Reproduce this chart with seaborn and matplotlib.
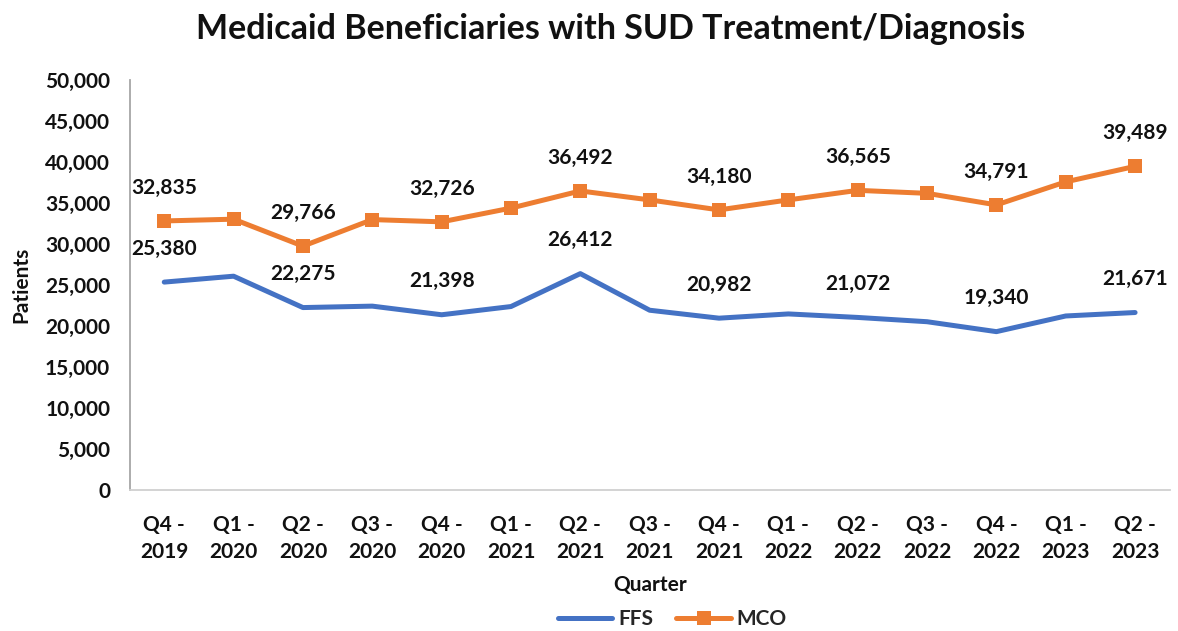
"""
Medicaid beneficiaries with SUD treatment/diagnosis, FFS vs MCO by quarter
"""
import matplotlib.pyplot as plt
import numpy as np
import pandas as pd
import seaborn as sns

quarters = ["Q4 -\n2019", "Q1 -\n2020", "Q2 -\n2020", "Q3 -\n2020", "Q4 -\n2020",
            "Q1 -\n2021", "Q2 -\n2021", "Q3 -\n2021", "Q4 -\n2021", "Q1 -\n2022",
            "Q2 -\n2022", "Q3 -\n2022", "Q4 -\n2022", "Q1 -\n2023", "Q2 -\n2023"]
ffs = [25380, 26100, 22275, 22450, 21398, 22400, 26412, 21950, 20982, 21500,
       21072, 20550, 19340, 21250, 21671]
mco = [32835, 33050, 29766, 33000, 32726, 34400, 36492, 35400, 34180, 35400,
       36565, 36200, 34791, 37600, 39489]
# only every second point gets a data label in the original
labelled = [0, 2, 4, 6, 8, 10, 12, 14]

sns.set_theme(style="white")
plt.rcParams['font.family'] = ['Lato', 'DejaVu Sans']

df = pd.DataFrame({"pos": np.arange(len(quarters)), "FFS": ffs, "MCO": mco})

fig, ax = plt.subplots(figsize=(11.78, 6.31), dpi=100)
fig.subplots_adjust(left=0.11, right=0.993, top=0.873, bottom=0.223)

sns.lineplot(data=df, x="pos", y="FFS", color="#4472C4", linewidth=3.6,
             label="FFS", ax=ax)
sns.lineplot(data=df, x="pos", y="MCO", color="#ED7D31", linewidth=3.6,
             marker="s", markersize=10, markeredgewidth=0, label="MCO", ax=ax)

for col in ("FFS", "MCO"):
    for i in labelled:
        ax.annotate(f"{df[col][i]:,}", (i, df[col][i]), xytext=(0, 24),
                    textcoords="offset points", ha="center", va="center",
                    fontsize=15, fontweight="bold", color="#111111")

ax.set_xlim(-0.5, len(quarters) - 0.5)
ax.set_ylim(0, 50000)
ax.set_yticks(range(0, 50001, 5000))
ax.set_yticklabels([f"{v:,}" for v in range(0, 50001, 5000)])
ax.set_xticks(range(len(quarters)))
ax.set_xticklabels(quarters, linespacing=1.45)
ax.tick_params(axis="both", length=0, labelsize=15, labelcolor="#111111")
for lab in ax.get_xticklabels() + ax.get_yticklabels():
    lab.set_fontweight("bold")
ax.tick_params(axis="x", pad=18)
ax.tick_params(axis="y", pad=14)

for side in ("top", "right"):
    ax.spines[side].set_visible(False)
ax.spines["left"].set_color("#a6a6a6")
ax.spines["bottom"].set_color("#d0d0d0")
ax.spines["left"].set_linewidth(1.3)
ax.spines["bottom"].set_linewidth(1.3)

ax.set_xlabel("Quarter", fontsize=15, fontweight="bold", labelpad=9,
              color="#111111")
ax.set_ylabel("Patients", fontsize=15, fontweight="bold", labelpad=10,
              color="#111111")
fig.suptitle("Medicaid Beneficiaries with SUD Treatment/Diagnosis",
             fontsize=24.5, fontweight="bold", x=0.518, y=0.98, color="#111111")

ax.legend(loc="lower center", bbox_to_anchor=(0.522, -0.385), ncol=2,
          frameon=False, handlelength=2.6, columnspacing=1.1,
          handletextpad=0.3, prop={"weight": "bold", "size": 15})

plt.savefig("out.png", dpi=100)
